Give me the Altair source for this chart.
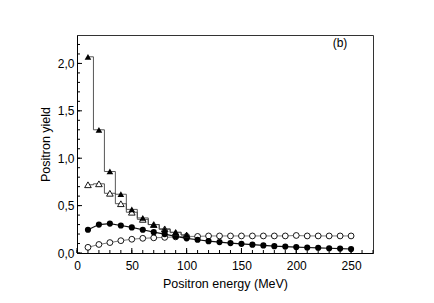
import altair as alt
import pandas as pd

# ---- data ----
energy_tri = [10, 20, 30, 40, 50, 60, 70, 80, 90, 100]
tri_filled = [2.07, 1.30, 0.86, 0.62, 0.46, 0.37, 0.30, 0.25, 0.22, 0.19]
tri_open = [0.72, 0.73, 0.63, 0.52, 0.43, 0.355, 0.30, 0.255, 0.215, 0.19]

energy_circ = [10, 20, 30, 40, 50, 60, 70, 80, 90, 100, 110, 120, 130, 140, 150,
               160, 170, 180, 190, 200, 210, 220, 230, 240, 250]
circ_filled = [0.245, 0.30, 0.31, 0.29, 0.27, 0.245, 0.22, 0.20, 0.175, 0.155,
               0.14, 0.125, 0.115, 0.105, 0.097, 0.088, 0.08, 0.072, 0.068,
               0.062, 0.058, 0.055, 0.05, 0.047, 0.042]
circ_open = [0.06, 0.09, 0.11, 0.13, 0.145, 0.155, 0.16, 0.165, 0.17, 0.175,
             0.175, 0.18, 0.18, 0.18, 0.18, 0.18, 0.18, 0.18, 0.18, 0.185,
             0.18, 0.18, 0.18, 0.18, 0.18]

x_major = [0, 50, 100, 150, 200, 250]
x_minor = list(range(0, 271, 10))
y_major = [0.0, 0.5, 1.0, 1.5, 2.0]
y_minor = [round(v * 0.1, 1) for v in range(0, 23)]

W, H = 296, 218
FONT = "Liberation Sans"

df_tf = pd.DataFrame({"x": energy_tri, "y": tri_filled})
df_to = pd.DataFrame({"x": energy_tri, "y": tri_open})
df_cf = pd.DataFrame({"x": energy_circ, "y": circ_filled})
df_co = pd.DataFrame({"x": energy_circ, "y": circ_open})

xs = alt.Scale(domain=[0, 270], nice=False, zero=False)
ys = alt.Scale(domain=[0, 2.3], nice=False, zero=False)

x_axis = alt.Axis(values=x_major, title="Positron energy (MeV)", ticks=False,
                  grid=False, labelPadding=7, titlePadding=6,
                  domainColor="black", labelFlush=False)
y_axis = alt.Axis(values=y_major, title="Positron yield", ticks=False,
                  grid=False, labelPadding=3, titlePadding=5,
                  domainColor="black",
                  labelExpr="replace(format(datum.value, '.1f'), '.', ',')")
X = alt.X("x:Q", scale=xs, axis=x_axis)
Y = alt.Y("y:Q", scale=ys, axis=y_axis)

co_line = alt.Chart(df_co).mark_line(color="#555", strokeWidth=0.8).encode(x=X, y=Y)
co_pts = alt.Chart(df_co).mark_point(shape="circle", filled=True, fill="white",
                                     stroke="black", strokeWidth=0.9, size=34,
                                     opacity=1).encode(x=X, y=Y)

cf_line = alt.Chart(df_cf).mark_line(color="#111", strokeWidth=1.2).encode(x=X, y=Y)
cf_pts = alt.Chart(df_cf).mark_point(shape="circle", filled=True, color="black",
                                     size=38, opacity=1).encode(x=X, y=Y)

to_line = alt.Chart(df_to).mark_line(interpolate="step", color="#444",
                                     strokeWidth=0.9).encode(x=X, y=Y)
to_pts = alt.Chart(df_to).mark_point(shape="triangle-up", filled=True, fill="white",
                                     stroke="black", strokeWidth=0.9, size=44,
                                     opacity=1).encode(x=X, y=Y)

tf_line = alt.Chart(df_tf).mark_line(interpolate="step", color="#444",
                                     strokeWidth=0.9).encode(x=X, y=Y)
tf_pts = alt.Chart(df_tf).mark_point(shape="triangle-up", filled=True, color="black",
                                     size=44, opacity=1).encode(x=X, y=Y)

# inward ticks
xmaj = alt.Chart(pd.DataFrame({"x": x_major})).mark_rule(color="black", strokeWidth=1).encode(
    x=X, y=alt.value(H), y2=alt.value(H - 5))
xmin = alt.Chart(pd.DataFrame({"x": x_minor})).mark_rule(color="black", strokeWidth=1).encode(
    x=X, y=alt.value(H), y2=alt.value(H - 3))
ymaj = alt.Chart(pd.DataFrame({"y": y_major})).mark_rule(color="black", strokeWidth=1).encode(
    y=Y, x=alt.value(0), x2=alt.value(5))
ymin = alt.Chart(pd.DataFrame({"y": y_minor})).mark_rule(color="black", strokeWidth=1).encode(
    y=Y, x=alt.value(0), x2=alt.value(3))

label = alt.Chart(pd.DataFrame({"t": ["(b)"]})).mark_text(
    font=FONT, fontSize=12, color="black", fill="black", align="center",
    baseline="middle"
).encode(text="t:N", x=alt.value(263), y=alt.value(8))

chart = alt.layer(
    co_line, co_pts, cf_line, cf_pts, to_line, tf_line, to_pts, tf_pts,
    xmaj, xmin, ymaj, ymin, label
).properties(
    width=W, height=H,
    autosize=alt.AutoSizeParams(type="none"),
    padding={"left": 69, "top": 27, "right": 53, "bottom": 42},
).configure_view(
    stroke="#333", strokeWidth=1
).configure_axis(
    labelFont=FONT, titleFont=FONT, labelFontSize=12, titleFontSize=12.5,
    labelColor="black", titleColor="black", titleFontWeight="normal"
)

chart.save("out.html", embed_options={"renderer": "svg", "actions": False})
